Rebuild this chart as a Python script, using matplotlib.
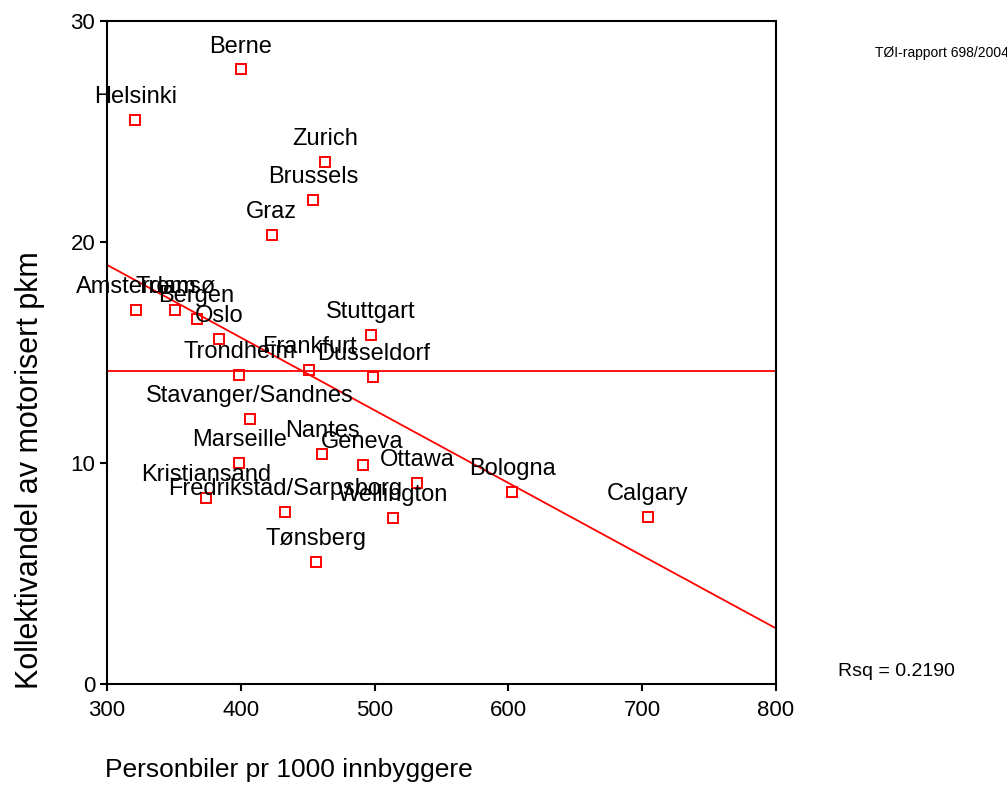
import numpy as np
import matplotlib.pyplot as plt

plt.rcParams['font.family'] = ['Liberation Sans', 'DejaVu Sans']

cities = ['Berne', 'Helsinki', 'Zurich', 'Brussels', 'Graz', 'Amsterdam', 'Tromsø',
          'Bergen', 'Oslo', 'Trondheim', 'Frankfurt', 'Dusseldorf', 'Stuttgart',
          'Stavanger/Sandnes', 'Marseille', 'Nantes', 'Geneva', 'Ottawa',
          'Kristiansand', 'Fredrikstad/Sarpsborg', 'Wellington', 'Tønsberg',
          'Bologna', 'Calgary']
cars = [400, 321, 463, 454, 423, 322, 351, 367, 384, 399, 451, 499, 497,
        407, 399, 461, 491, 532, 374, 433, 514, 456, 603, 704]
share = [27.8, 25.5, 23.6, 21.9, 20.3, 16.9, 16.9, 16.5, 15.6, 14.0, 14.2, 13.9, 15.8,
         12.0, 10.0, 10.4, 9.9, 9.1, 8.4, 7.8, 7.5, 5.5, 8.7, 7.55]

x = np.array(cars, dtype=float)
y = np.array(share)

fig = plt.figure(figsize=(10.07, 8.0), dpi=100)
ax = fig.add_axes([0.1063, 0.145, 0.6643, 0.829])

ax.plot(x, y, 's', mfc='none', mec='red', ms=7, mew=1.4, zorder=3)

for name, xi, yi in zip(cities, x, y):
    ax.annotate(name, (xi, yi), xytext=(0, 16.5), textcoords='offset points',
                ha='center', va='center', fontsize=17)

# middelverdi og lineær tilpasning
ax.axhline(y.mean(), color='red', lw=1.3)
slope, icept = np.polyfit(x, y, 1)
xx = np.array([300, 800])
ax.plot(xx, icept + slope * xx, color='red', lw=1.3)

ax.set_xlim(300, 800)
ax.set_ylim(0, 30)
ax.set_xticks([300, 400, 500, 600, 700, 800])
ax.set_yticks([0, 10, 20, 30])
ax.tick_params(labelsize=16, width=1.5, length=5)
ax.tick_params(axis='x', pad=6.5)
for s in ax.spines.values():
    s.set_linewidth(1.5)

fig.text(0.03, 0.4125, 'Kollektivandel av motorisert pkm', rotation=90,
         ha='center', va='center', fontsize=22)
fig.text(0.104, 0.0375, 'Personbiler pr 1000 innbyggere', ha='left', va='center', fontsize=19)
fig.text(0.832, 0.16, 'Rsq = 0.2190', ha='left', va='center', fontsize=14)
fig.text(0.869, 0.934, 'TØI-rapport 698/2004', ha='left', va='center', fontsize=10)

fig.savefig('out.png', dpi=100)
